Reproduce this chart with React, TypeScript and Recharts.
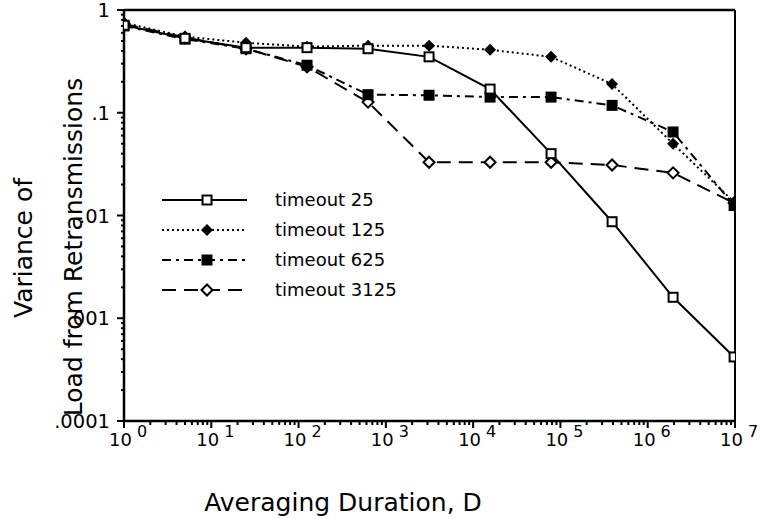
import React from "react";
import { LineChart, Line, XAxis, YAxis, ReferenceLine } from "recharts";

// averaging durations (powers of 5)
const durations = [1, 5, 25, 125, 625, 3125, 15625, 78125, 390625, 1953125, 9765625];

const timeout25 = [0.71, 0.53, 0.43, 0.43, 0.42, 0.35, 0.17, 0.04, 0.0087, 0.0016, 0.00042];
const timeout125 = [0.75, 0.55, 0.48, 0.44, 0.45, 0.45, 0.41, 0.35, 0.19, 0.05, 0.0135];
const timeout625 = [0.7, 0.52, 0.42, 0.29, 0.15, 0.148, 0.142, 0.142, 0.118, 0.065, 0.0125];
const timeout3125 = [0.73, 0.54, 0.42, 0.28, 0.127, 0.033, 0.033, 0.033, 0.031, 0.026, 0.0132];

const seriesNames = ["timeout 25", "timeout 125", "timeout 625", "timeout 3125"];

const xMajor = [0, 1, 2, 3, 4, 5, 6, 7];
const yMajor = [-4, -3, -2, -1, 0];
const yLabels = [".0001", ".001", ".01", ".1", "1"];

const FONT = "'DejaVu Sans', Verdana, sans-serif";

const data = durations.map((d, i) => ({
  d,
  t25: timeout25[i],
  t125: timeout125[i],
  t625: timeout625[i],
  t3125: timeout3125[i],
}));

// major + minor log ticks
const logTicks = (exps: number[]) => {
  const out: number[] = [];
  exps.forEach((e, i) => {
    out.push(Math.pow(10, e));
    if (i < exps.length - 1) {
      for (let m = 2; m <= 9; m++) out.push(m * Math.pow(10, e));
    }
  });
  return out;
};
const xTicks = logTicks(xMajor);
const yTicks = logTicks(yMajor);

const isMajor = (v: number) => {
  const e = Math.round(Math.log10(v));
  return Math.abs(v - Math.pow(10, e)) < 1e-6 * v;
};

const XTick = (props: any) => {
  const { x, y, payload } = props;
  const v = payload.value;
  const major = isMajor(v);
  const e = Math.round(Math.log10(v));
  return (
    <g>
      <line x1={x} x2={x} y1={y} y2={y + (major ? 7 : 4)} stroke="#000" strokeWidth={2} />
      {major && (
        <text x={x - 15} y={y + 25} fontSize={18} fontFamily={FONT} fill="#000">
          10
          <tspan dx={5} dy={-9} fontSize={16}>
            {e}
          </tspan>
        </text>
      )}
    </g>
  );
};

const YTick = (props: any) => {
  const { x, y, payload } = props;
  const v = payload.value;
  const major = isMajor(v);
  const e = Math.round(Math.log10(v));
  const idx = yMajor.indexOf(e);
  return (
    <g>
      <line x1={x} x2={x - (major ? 7 : 3)} y1={y} y2={y} stroke="#000" strokeWidth={2} />
      {major && (
        <text x={x - 14} y={y + 7} fontSize={19.5} fontFamily={FONT} textAnchor="end" fill="#000">
          {yLabels[idx]}
        </text>
      )}
    </g>
  );
};

const OpenSquare = ({ cx, cy }: any) => (
  <rect x={cx - 4.5} y={cy - 4.5} width={9} height={9} fill="#fff" stroke="#000" strokeWidth={2} />
);
const FilledDiamond = ({ cx, cy }: any) => (
  <polygon points={`${cx},${cy - 6} ${cx + 6},${cy} ${cx},${cy + 6} ${cx - 6},${cy}`} fill="#000" />
);
const FilledSquare = ({ cx, cy }: any) => (
  <rect x={cx - 5.5} y={cy - 5.5} width={11} height={11} fill="#000" />
);
const OpenDiamond = ({ cx, cy }: any) => (
  <polygon
    points={`${cx},${cy - 5.5} ${cx + 5.5},${cy} ${cx},${cy + 5.5} ${cx - 5.5},${cy}`}
    fill="#fff"
    stroke="#000"
    strokeWidth={2}
  />
);

const series = [
  { key: "t3125", dash: "14 8", Marker: OpenDiamond },
  { key: "t625", dash: "9 5 3 5", Marker: FilledSquare },
  { key: "t125", dash: "2 3", Marker: FilledDiamond },
  { key: "t25", dash: undefined, Marker: OpenSquare },
];

const legendItems = [
  { dash: undefined, Marker: OpenSquare },
  { dash: "2 3", Marker: FilledDiamond },
  { dash: "9 5 3 5", Marker: FilledSquare },
  { dash: "14 8", Marker: OpenDiamond },
];

export default function App() {
  return (
    <div style={{ position: "absolute", left: 0, top: 0, width: 760, height: 519, background: "#fff" }}>
      <LineChart width={760} height={519} data={data} margin={{ top: 10, right: 25, bottom: 0, left: 0 }}>
        <XAxis
          dataKey="d"
          type="number"
          scale="log"
          domain={[1, 1e7]}
          ticks={xTicks}
          interval={0}
          height={98}
          tickSize={0}
          tickMargin={0}
          tickLine={false}
          axisLine={{ stroke: "#000", strokeWidth: 2.5 }}
          tick={<XTick />}
          allowDataOverflow
        />
        <YAxis
          type="number"
          scale="log"
          domain={[0.0001, 1]}
          ticks={yTicks}
          interval={0}
          width={124}
          tickSize={0}
          tickMargin={0}
          tickLine={false}
          axisLine={{ stroke: "#000", strokeWidth: 2.5 }}
          tick={<YTick />}
          allowDataOverflow
        />
        <ReferenceLine y={1} stroke="#000" strokeWidth={2.5} />
        <ReferenceLine x={1e7} stroke="#000" strokeWidth={2} />
        {series.map((s) => (
          <Line
            key={s.key}
            dataKey={s.key}
            type="linear"
            stroke="#000"
            strokeWidth={2}
            strokeDasharray={s.dash}
            isAnimationActive={false}
            dot={(p: any) => <s.Marker key={`${s.key}-${p.index}`} cx={p.cx} cy={p.cy} />}
            activeDot={false}
          />
        ))}
      </LineChart>
      <svg
        width={760}
        height={519}
        style={{ position: "absolute", left: 0, top: 0, pointerEvents: "none" }}
      >
        {legendItems.map((it, i) => {
          const y = 200 + i * 30;
          return (
            <g key={i}>
              <line x1={162} x2={247} y1={y} y2={y} stroke="#000" strokeWidth={2} strokeDasharray={it.dash} />
              <it.Marker cx={207} cy={y} />
              <text x={275} y={y + 6} fontSize={18} fontFamily={FONT} fill="#000">
                {seriesNames[i]}
              </text>
            </g>
          );
        })}
        <text transform="translate(32,248) rotate(-90)" textAnchor="middle" fontSize={25} fontFamily={FONT} fill="#000">
          Variance of
        </text>
        <text transform="translate(82,247) rotate(-90)" textAnchor="middle" fontSize={25} fontFamily={FONT} fill="#000">
          Load from Retransmissions
        </text>
        <text x={343} y={511} textAnchor="middle" fontSize={25} fontFamily={FONT} fill="#000">
          Averaging Duration, D
        </text>
      </svg>
    </div>
  );
}
